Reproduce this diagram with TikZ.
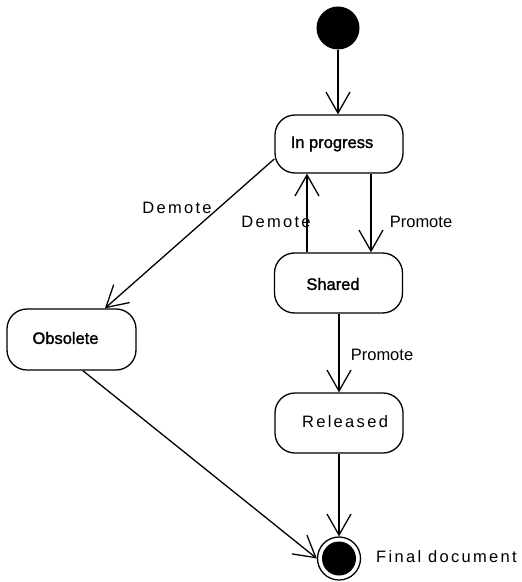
\documentclass[tikz,border=0pt]{standalone}
\usepackage{fontspec}
\setmainfont{Liberation Sans}
\newfontfamily\widefont[LetterSpace=14]{Liberation Sans}
\newfontfamily\heavyfont[FakeBold=1.6]{Liberation Sans}
\usetikzlibrary{arrows.meta}
\begin{document}
\begin{tikzpicture}[x=1bp,y=-1bp,
  every node/.style={font=\fontsize{16.5bp}{20bp}\selectfont},
  statebox/.style={draw,line width=1.3bp,rounded corners=20bp,inner sep=0pt,minimum width=128bp,minimum height=58bp},
  lbl/.style={inner sep=0pt},
  trans/.style={line width=1.3bp,-{Straight Barb[length=21bp,width=24bp,line width=1.3bp]}}]
\useasboundingbox (0,0) rectangle (522,582);
% states
\node[circle,fill=black,inner sep=0pt,minimum size=43bp] (init) at (338,28) {};
\node[statebox] (ip) at (339,144) {};
\node[lbl] (iptxt) at (332,144) {\heavyfont In progress};
\node[statebox,minimum height=60bp] (sh) at (338.5,283) {};
\node[lbl] (shtxt) at (333,284) {\heavyfont Shared};
\node[statebox,minimum height=60bp] (rel) at (339,423) {};
\node[lbl] (reltxt) at (345,422) {\widefont Released};
\node[statebox,minimum width=129bp,minimum height=61bp] (obs) at (71.5,339.5) {};
\node[lbl] (obstxt) at (65.5,338) {\heavyfont Obsolete};
\node[circle,draw,line width=1.3bp,inner sep=0pt,minimum size=43bp] (fin) at (339,558.5) {};
\node[circle,fill=black,inner sep=0pt,minimum size=34bp] (fincore) at (fin) {};
\node[lbl,anchor=west] (fintxt) at (376,557) {\widefont Final document};
% coordinates for vertical transitions
\coordinate (dmA) at (ip.south -| 307,0);
\coordinate (dmB) at (sh.north -| 307,0);
\coordinate (prA) at (ip.south -| 371,0);
\coordinate (prB) at (sh.north -| 371,0);
% transitions
\draw[trans] (init) -- (ip.north -| init);
\draw[trans] (dmB) -- (dmA);
\draw[trans] (prA) -- (prB);
\draw[trans] (sh.south -| rel) -- (rel.north);
\draw[trans] (rel.south) -- (fin.north);
\draw[trans] (ip.193) -- (obs.43);
\draw[trans] (obs.290) -- (fin.west);
% labels
\node[lbl] (l1) at (177,208) {\widefont Demote};
\node[lbl] (l2) at (276,222) {\widefont Demote};
\node[lbl] (l3) at (421,222) {Promote};
\node[lbl] (l4) at (382,355) {Promote};
\end{tikzpicture}
\end{document}
